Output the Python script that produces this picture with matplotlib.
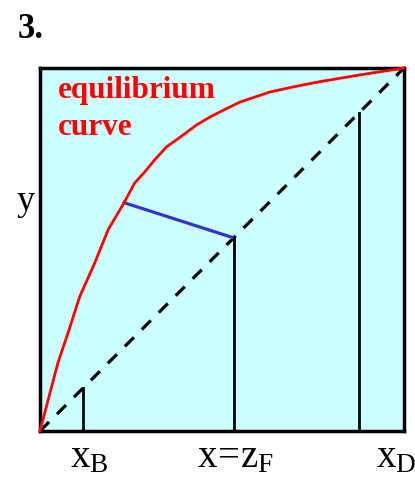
import matplotlib.pyplot as plt
import numpy as np

plt.rcParams['font.family'] = ['Liberation Serif', 'DejaVu Serif']
plt.rcParams['mathtext.fontset'] = 'custom'
plt.rcParams['mathtext.rm'] = 'Liberation Serif'
plt.rcParams['mathtext.it'] = 'Liberation Serif'

# equilibrium curve, mole fraction of light component in vapour vs liquid
eq_x = [0.0, 0.049, 0.077, 0.109, 0.150, 0.187, 0.231, 0.260, 0.288, 0.315, 0.348,
        0.379, 0.430, 0.467, 0.508, 0.549, 0.632, 0.696, 0.761, 0.879, 1.0]
eq_y = [0.0, 0.187, 0.270, 0.370, 0.462, 0.554, 0.629, 0.683, 0.714, 0.747, 0.783,
        0.805, 0.843, 0.865, 0.886, 0.906, 0.934, 0.948, 0.961, 0.981, 1.0]

# bottoms, feed and distillate compositions
x_B = 0.118
z_F = 0.532
x_D = 0.876

# q-line from the feed point to the curve
q_x = [z_F, 0.231]
q_y = [z_F, 0.629]

W, H = 415, 482
fig = plt.figure(figsize=(W / 100, H / 100), dpi=100)
ax = fig.add_axes([40 / W, 1 - 431 / H, 364 / W, 363 / H])
ax.set_facecolor('#ccffff')
ax.set_xlim(0, 1)
ax.set_ylim(0, 1)
ax.set_xticks([])
ax.set_yticks([])
for s in ax.spines.values():
    s.set_linewidth(2.5)
    s.set_color('black')

ax.plot([0, 1], [0, 1], color='black', lw=2.3, ls=(0, (4, 3.5)))
ax.plot(eq_x, eq_y, color='#ff0000', lw=2, clip_on=False, zorder=3,
        solid_joinstyle='round')
ax.plot(q_x, q_y, color='#3333cc', lw=2.3)
for xv in [x_B, z_F, x_D]:
    ax.plot([xv, xv], [0, xv], color='black', lw=2)

def ftext(px, py, s, **kw):
    fig.text(px / W, 1 - py / H, s, **kw)

ftext(18, 38, '3.', fontsize=25, fontweight='bold')
ftext(58, 98, 'equilibrium', fontsize=22.5, fontweight='bold', color='#ff0000')
ftext(58, 135, 'curve', fontsize=22.5, fontweight='bold', color='#ff0000')
ftext(35, 210, 'y', fontsize=26, ha='right')
ftext(89, 467, r'$\mathrm{x}_\mathrm{B}$', fontsize=28, ha='center')
ftext(236, 467, r'$\mathrm{x\!=\!z}_\mathrm{F}$', fontsize=28, ha='center')
ftext(396, 467, r'$\mathrm{x}_\mathrm{D}$', fontsize=28, ha='center')

fig.savefig('out.png', dpi=100)
